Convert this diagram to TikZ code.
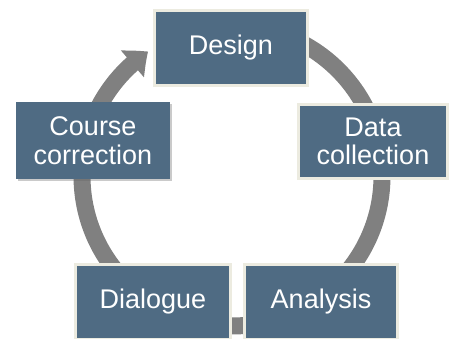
\documentclass[tikz,border=0pt]{standalone}
\usepackage{fontspec}
\setmainfont{Liberation Sans}
\usetikzlibrary{arrows.meta,bending,shadows}
\definecolor{boxblue}{RGB}{79,107,131}
\definecolor{cream}{RGB}{236,235,224}
\definecolor{ringgray}{RGB}{128,128,128}
\tikzset{
  stage/.style={fill=boxblue, text=white, align=center, inner sep=0pt,
    font=\fontsize{27}{28.5}\selectfont,
    drop shadow={shadow xshift=1.5pt, shadow yshift=-2pt, opacity=0.35, fill=black!60}},
  framed/.style={stage, draw=cream, line width=3pt},
  ring/.style={draw=ringgray, line width=17pt, -{Triangle[width=34pt,length=20pt,bend]}}
}
\begin{document}
\begin{tikzpicture}[x=1pt,y=1pt]
\useasboundingbox (0,0) rectangle (454,339);
\clip (0,0) rectangle (454,339);
\coordinate (c) at (232,163);
\draw[ring] ([shift={(90:150)}]c) arc[start angle=90, end angle=-236, radius=150];
\node[framed, minimum width=153pt, minimum height=75pt] (design) at (231,291) {Design};
\node[stage, minimum width=154pt, minimum height=77pt] (course) at (93,198.5) {Course\\correction};
\node[framed, minimum width=149pt, minimum height=74pt] (data) at (373,197.5) {Data\\collection};
\node[framed, minimum width=155pt, minimum height=75pt] (dialogue) at (153,37) {Dialogue};
\node[framed, minimum width=153pt, minimum height=75pt] (analysis) at (321,37) {Analysis};
\end{tikzpicture}
\end{document}
